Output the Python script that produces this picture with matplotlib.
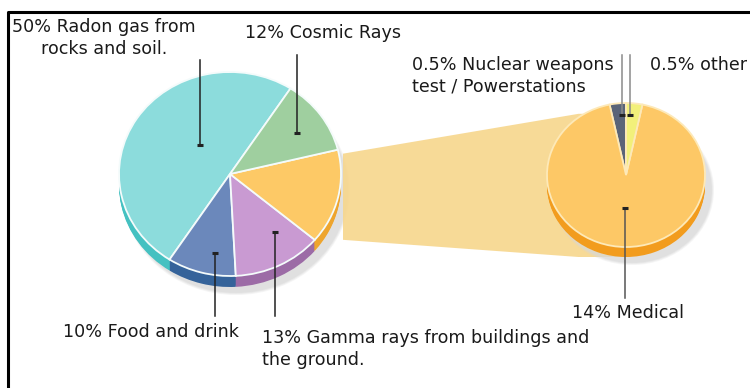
import matplotlib
matplotlib.use("Agg")
import matplotlib.pyplot as plt
import numpy as np
from matplotlib.transforms import Affine2D
from matplotlib.patches import Ellipse, Polygon

# --- data -------------------------------------------------------------
# main pie (counterclockwise from the radon slice); the "medical & other"
# slice is the sum of the detail pie on the right
main_names = ["Radon", "Food", "Gamma", "Medical+other", "Cosmic"]
detail_names = ["Nuclear", "Medical", "Other"]
detail_shares = [0.5, 14, 0.5]
main_shares = [50, 10, 13, sum(detail_shares), 12]

main_colors = ["#8cdcdc", "#6b88bb", "#c99ad2", "#fdc966", "#9fcf9f"]
main_sides = ["#45c1c1", "#35639a", "#9c6ba6", "#eea52e", "#6fae6f"]
detail_colors = ["#5a6478", "#fdc866", "#f2f07a"]
detail_sides = ["#3e4656", "#f29c1e", "#d8d040"]

labels = [
    # text, x, y, ha, dot x, dot y, line top y, line colour
    ("50% Radon gas from\nrocks and soil.", 104, 38, "center", 200, 145, 60, "#222222"),
    ("12% Cosmic Rays", 245, 33, "left", 297, 133, 55, "#222222"),
    ("0.5% Nuclear weapons\ntest / Powerstations", 412, 76, "left", 622, 115, 55, "#8a8a8a"),
    ("0.5% other", 650, 65, "left", 630, 115, 55, "#8a8a8a"),
    ("14% Medical", 572, 313, "left", 625, 208, 298, "#555555"),
    ("10% Food and drink", 63, 332, "left", 215, 253, 316, "#222222"),
    ("13% Gamma rays from buildings and\nthe ground.", 262, 349, "left", 275, 232, 316, "#222222"),
]

# --- layout (pixels) --------------------------------------------------
W, H = 750, 388
main_c, main_r, main_depth, main_start = (230, 174), (111, 102), 11, 57
det_c, det_r, det_depth, det_start = (626, 175), (79, 72), 10, 90

fig = plt.figure(figsize=(W / 100, H / 100), dpi=100)
ax = fig.add_axes([0, 0, 1, 1])


def draw_pie(values, colors, sides, center, radii, depth, start, edge):
    cx, cy = center
    rx, ry = radii
    # soft shadow
    for k, a in enumerate([0.25, 0.35, 0.5]):
        grow = 6 - 2 * k
        ax.add_patch(Ellipse((cx + 6, cy + depth + 5), 2 * rx + grow, 2 * ry + grow,
                             color="#d8d8d8", alpha=a, lw=0))
    # side of the disc
    for d in range(depth, 0, -1):
        wedges, _ = ax.pie(values, colors=sides, startangle=start,
                           wedgeprops=dict(linewidth=0))
        for w in wedges:
            w.set_transform(Affine2D().scale(rx, -ry).translate(cx, cy + d) + ax.transData)
    # top face
    wedges, _ = ax.pie(values, colors=colors, startangle=start,
                       wedgeprops=dict(edgecolor=edge, linewidth=1.3))
    for w in wedges:
        w.set_transform(Affine2D().scale(rx, -ry).translate(cx, cy) + ax.transData)
    return wedges


main_wedges = draw_pie(main_shares, main_colors, main_sides, main_c, main_r,
                       main_depth, main_start, "#f4fbfb")

# connecting band from the medical slice to the detail pie
med = main_wedges[3]
t1, t2 = np.deg2rad(med.theta1), np.deg2rad(med.theta2)
left_x = main_c[0] + main_r[0] + 2
top_left = main_c[1] - main_r[1] * np.sin(t2) + 4
bot_left = main_c[1] - main_r[1] * np.sin(t1)
right_x = det_c[0] - det_r[0] * 0.6
band = Polygon([(left_x, top_left), (right_x, det_c[1] - det_r[1] * 0.85),
                (det_c[0], det_c[1] - det_r[1] * 0.85), (det_c[0], det_c[1] + det_r[1] + det_depth),
                (right_x, det_c[1] + det_r[1] + det_depth), (left_x, bot_left)],
               closed=True, facecolor="#f7d68c", edgecolor="none", alpha=0.9)
ax.add_patch(band)

draw_pie(detail_shares, detail_colors, detail_sides, det_c, det_r,
         det_depth, det_start, "#fde9b8")

# --- labels and leader lines -----------------------------------------
for text, x, y, ha, dx, dy, top, lc in labels:
    ax.text(x, y, text, ha=ha, va="center", fontsize=12.6, color="#1a1a1a",
            family="DejaVu Sans", linespacing=1.25)
    ax.plot([dx, dx], [top, dy], color=lc, lw=1.1)
    ax.plot([dx], [dy], marker="_", markersize=5, mew=2.2, color="#222222")

# frame of the original picture
ax.plot([8, 8, W + 5], [H + 5, 12, 12], color="black", lw=2.2)

ax.set_xlim(0, W)
ax.set_ylim(H, 0)
ax.set_aspect("auto")
ax.axis("off")

fig.savefig("out.png", dpi=100, facecolor="white")
